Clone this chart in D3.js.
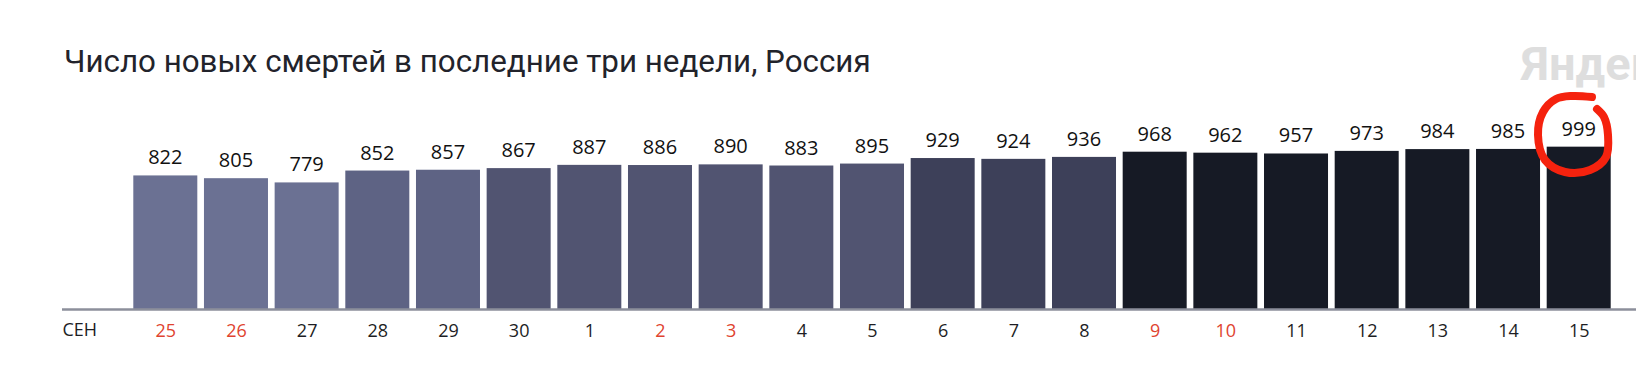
<!DOCTYPE html>
<html>
<head>
<meta charset="utf-8">
<script src="https://cdn.jsdelivr.net/npm/d3@7"></script>
<style>
  html, body { margin: 0; padding: 0; background: #fff; overflow: hidden; }
  svg { display: block; }
</style>
</head>
<body>
<svg id="chart" width="1636" height="382"></svg>
<script>
// ---- data ----
const days = ["25","26","27","28","29","30","1","2","3","4","5","6","7","8","9","10","11","12","13","14","15"];
const deaths = [822,805,779,852,857,867,887,886,890,883,895,929,924,936,968,962,957,973,984,985,999];
const weekendDays = ["25","26","2","3","9","10"];
const monthLabel = "СЕН";
const title = "Число новых смертей в последние три недели, Россия";
const watermark = "Яндекс";

// ---- layout ----
const W = 1636, H = 382;
const baseY = 309;
const svg = d3.select("#chart");

const x = d3.scaleBand()
  .domain(days.map((d, i) => i))
  .range([133.3, 1610.7])
  .paddingInner(0.0943)
  .paddingOuter(0);

const y = d3.scaleLinear()
  .domain([0, 1000])
  .range([baseY, baseY - 162.5]);

const color = d3.scaleThreshold()
  .domain([850, 860, 900, 950])
  .range(["#6b7193", "#5e6384", "#515471", "#3d4059", "#161a25"]);

// watermark (cut by the right edge, as in the original screenshot)
svg.append("text")
  .attr("x", 1521).attr("y", 80)
  .attr("font-family", "Roboto, 'Open Sans', sans-serif")
  .attr("font-weight", 700)
  .attr("font-size", 47)
  .attr("fill", "#dedede")
  .text(watermark);

// title
const t = svg.append("text")
  .attr("x", 64).attr("y", 72)
  .attr("font-family", "Roboto, 'Open Sans', sans-serif")
  .attr("font-size", 30)
  .attr("fill", "#22232b")
  .text(title);
const tw = t.node().getComputedTextLength();
if (tw > 0) {
  const target = 807;
  const fs = Math.max(26, Math.min(32, 30 * target / tw));
  t.attr("font-size", fs);
  const tw2 = t.node().getComputedTextLength();
  if (Math.abs(tw2 - target) > 4) t.attr("textLength", target).attr("lengthAdjust", "spacingAndGlyphs");
}

// bars
svg.append("g").selectAll("rect")
  .data(deaths)
  .join("rect")
  .attr("x", (d, i) => x(i))
  .attr("y", d => y(d))
  .attr("width", x.bandwidth())
  .attr("height", d => baseY - y(d))
  .attr("fill", d => color(d));

// value labels
svg.append("g").selectAll("text")
  .data(deaths)
  .join("text")
  .attr("x", (d, i) => x(i) + x.bandwidth() / 2)
  .attr("y", d => y(d) - 11)
  .attr("text-anchor", "middle")
  .attr("font-family", "'Open Sans', sans-serif")
  .attr("font-size", 20)
  .attr("fill", "#111")
  .text(d => d);

// axis
const axisScale = d3.scalePoint()
  .domain(days.map((d, i) => i))
  .range([x(0) + x.bandwidth() / 2, x(days.length - 1) + x.bandwidth() / 2]);
const axis = d3.axisBottom(axisScale)
  .tickSize(0)
  .tickPadding(15)
  .tickFormat(i => days[i]);
const gAxis = svg.append("g")
  .attr("transform", `translate(0,${baseY})`)
  .call(axis);
gAxis.select(".domain").remove();
gAxis.selectAll("text")
  .attr("font-family", "'Open Sans', sans-serif")
  .attr("font-size", 18)
  .attr("dy", "0.71em")
  .attr("fill", (i) => weekendDays.includes(days[i]) ? "#e0432f" : "#1d1e24");

svg.append("line")
  .attr("x1", 62).attr("x2", W)
  .attr("y1", baseY + 0.5).attr("y2", baseY + 0.5)
  .attr("stroke", "#8c8f9b")
  .attr("stroke-width", 2.5);

svg.append("text")
  .attr("x", 62.5).attr("y", 336)
  .attr("font-family", "'Open Sans', sans-serif")
  .attr("font-size", 18)
  .attr("fill", "#1d1e24")
  .text(monthLabel);

// hand-drawn red annotation around the last value
const loop = d3.line().curve(d3.curveCatmullRom.alpha(0.5));
const pts = [[1592, 97], [1572, 96], [1556, 99], [1543, 112], [1538, 135], [1545, 160], [1565, 172], [1590, 170], [1606, 157], [1608, 135], [1604, 117], [1597, 109]];
svg.append("path")
  .attr("d", loop(pts))
  .attr("fill", "none")
  .attr("stroke", "#f5220e")
  .attr("stroke-width", 8)
  .attr("stroke-linecap", "round")
  .attr("stroke-linejoin", "round");
</script>
</body>
</html>
